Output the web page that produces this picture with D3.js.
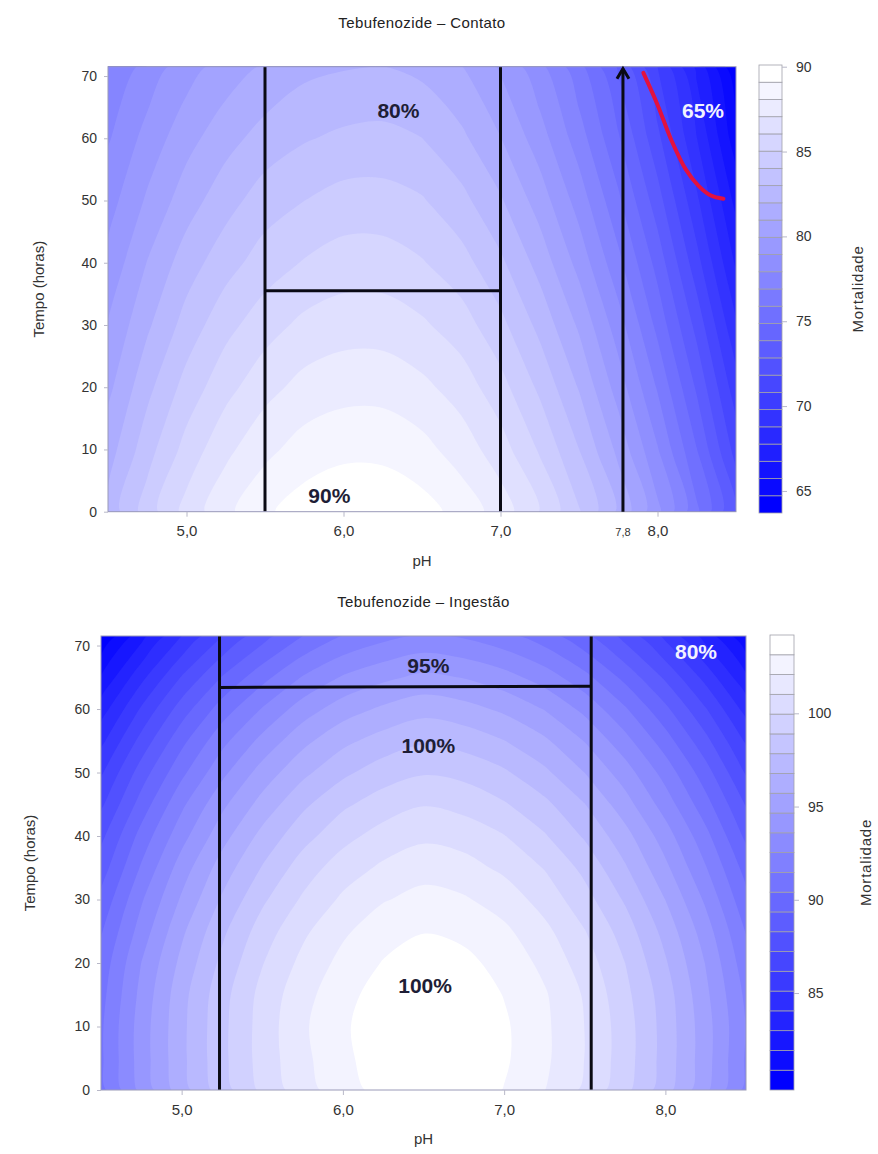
<!DOCTYPE html>
<html>
<head>
<meta charset="utf-8">
<script src="https://cdn.jsdelivr.net/npm/d3@7"></script>
<style>
body { margin: 0; background: #fff; }
svg text { font-family: "Liberation Sans", Arial, sans-serif; fill: #333; }
</style>
</head>
<body>
<div id="chart"></div>
<script>
// grade: colunas = pH, linhas = tempo (horas)
var phCols = [4.5, 4.75, 5.0, 5.25, 5.5, 5.75, 6.0, 6.25, 6.5, 6.75, 7.0, 7.25, 7.5, 7.75, 8.0, 8.25, 8.5];
var contatoRows = [0, 10, 20, 30, 40, 50, 60, 71.5];
var ingestaoRows = [0, 5, 10, 15, 20, 25, 30, 35, 40, 45, 50, 55, 60, 65, 71.5];

// Mortalidade - Contato
var contatoGrid = [
  [82.3, 84.5, 86.4, 87.8, 88.9, 89.6, 90.0, 89.9, 89.5, 88.7, 87.6, 86.0, 84.1, 81.8, 79.2, 76.1, 72.7],
  [81.5, 83.6, 85.4, 86.8, 87.8, 88.5, 88.8, 88.8, 88.4, 87.6, 86.5, 84.9, 83.0, 80.7, 78.0, 74.9, 71.4],
  [80.7, 82.7, 84.4, 85.7, 86.7, 87.4, 87.7, 87.7, 87.3, 86.6, 85.4, 83.8, 81.9, 79.5, 76.8, 73.7, 70.2],
  [80.0, 81.8, 83.4, 84.7, 85.6, 86.3, 86.6, 86.6, 86.2, 85.5, 84.3, 82.7, 80.8, 78.4, 75.6, 72.5, 68.9],
  [79.2, 81.0, 82.5, 83.6, 84.5, 85.1, 85.5, 85.5, 85.1, 84.4, 83.2, 81.6, 79.6, 77.2, 74.5, 71.2, 67.6],
  [78.5, 80.1, 81.5, 82.6, 83.5, 84.0, 84.4, 84.4, 84.1, 83.3, 82.1, 80.5, 78.5, 76.1, 73.3, 70.0, 66.4],
  [77.8, 79.3, 80.6, 81.6, 82.4, 82.9, 83.2, 83.3, 83.0, 82.2, 81.0, 79.4, 77.4, 75.0, 72.1, 68.8, 65.1],
  [76.9, 78.3, 79.5, 80.4, 81.1, 81.7, 81.9, 82.0, 81.7, 81.0, 79.8, 78.2, 76.2, 73.7, 70.8, 67.5, 63.7]
];

// Mortalidade - Ingestão
var ingestaoGrid = [
  [91.1, 93.9, 96.3, 98.4, 100.2, 101.6, 102.7, 103.5, 103.9, 103.7, 103.1, 102.1, 100.8, 99.2, 97.2, 94.9, 92.2],
  [91.3, 94.1, 96.5, 98.6, 100.4, 101.8, 102.9, 103.7, 104.1, 103.9, 103.3, 102.3, 101.0, 99.4, 97.4, 95.1, 92.4],
  [91.3, 94.1, 96.5, 98.6, 100.4, 101.9, 103.0, 103.7, 104.1, 103.9, 103.3, 102.3, 101.0, 99.4, 97.4, 95.1, 92.5],
  [91.1, 93.9, 96.4, 98.5, 100.3, 101.7, 102.8, 103.6, 104.0, 103.8, 103.1, 102.2, 100.9, 99.2, 97.3, 94.9, 92.3],
  [90.8, 93.6, 96.0, 98.1, 99.9, 101.3, 102.4, 103.2, 103.6, 103.4, 102.8, 101.8, 100.5, 98.9, 96.9, 94.6, 91.9],
  [90.3, 93.0, 95.5, 97.6, 99.4, 100.8, 101.9, 102.7, 103.1, 102.9, 102.3, 101.3, 100.0, 98.4, 96.4, 94.1, 91.4],
  [89.6, 92.4, 94.8, 96.9, 98.7, 100.1, 101.2, 102.0, 102.4, 102.2, 101.6, 100.6, 99.3, 97.7, 95.7, 93.4, 90.7],
  [88.8, 91.6, 94.1, 96.2, 97.9, 99.4, 100.5, 101.2, 101.7, 101.4, 100.8, 99.9, 98.6, 96.9, 94.9, 92.6, 90.0],
  [88.0, 90.8, 93.2, 95.3, 97.1, 98.5, 99.6, 100.4, 100.8, 100.6, 100.0, 99.0, 97.7, 96.1, 94.1, 91.8, 89.1],
  [87.0, 89.8, 92.3, 94.4, 96.1, 97.6, 98.7, 99.4, 99.9, 99.6, 99.0, 98.1, 96.8, 95.1, 93.1, 90.8, 88.2],
  [86.0, 88.8, 91.2, 93.3, 95.1, 96.5, 97.6, 98.4, 98.8, 98.6, 98.0, 97.0, 95.7, 94.1, 92.1, 89.8, 87.1],
  [84.8, 87.6, 90.1, 92.2, 93.9, 95.4, 96.5, 97.2, 97.7, 97.4, 96.8, 95.9, 94.6, 92.9, 90.9, 88.6, 86.0],
  [83.5, 86.3, 88.8, 90.9, 92.6, 94.1, 95.2, 95.9, 96.4, 96.1, 95.5, 94.6, 93.3, 91.6, 89.6, 87.3, 84.7],
  [82.0, 84.8, 87.3, 89.4, 91.1, 92.6, 93.7, 94.4, 94.9, 94.6, 94.0, 93.1, 91.8, 90.1, 88.1, 85.8, 83.2],
  [79.8, 82.6, 85.1, 87.2, 88.9, 90.4, 91.5, 92.2, 92.7, 92.4, 91.8, 90.9, 89.6, 87.9, 85.9, 83.6, 81.0]
];

var xTicks = [5, 6, 7, 8];
var xTickLabels = ["5,0", "6,0", "7,0", "8,0"];
var yTicks = [0, 10, 20, 30, 40, 50, 60, 70];

var contatoScale = [63.7, 90.1];   // faixa da legenda
var contatoLevels = 26;
var contatoLegendTicks = [65, 70, 75, 80, 85, 90];
var ingestaoScale = [79.8, 104.2];
var ingestaoLevels = 23;
var ingestaoLegendTicks = [85, 90, 95, 100];

// linhas pretas (pH, tempo)
var contatoLines = [
  [[5.5, 0], [5.5, 71.5]],
  [[7.0, 0], [7.0, 71.5]],
  [[5.5, 35.5], [7.0, 35.5]]
];
var contatoArrowPh = 7.78;
var contatoArrowLabel = "7,8";
var contatoRedCurve = [[7.91, 70.5], [8.0, 65.4], [8.09, 59.6], [8.18, 55.0], [8.26, 52.4], [8.34, 50.8], [8.42, 50.3]];
var ingestaoLines = [
  [[5.235, 0], [5.235, 71.5]],
  [[7.54, 0], [7.54, 71.5]],
  [[5.235, 63.4], [7.54, 63.6]]
];

// rótulos de porcentagem (texto, pH, tempo)
var contatoLabels = [["80%", 6.35, 64.4], ["90%", 5.91, 2.6]];
var contatoLabelsLight = [["65%", 8.29, 64.4]];
var ingestaoLabels = [["95%", 6.53, 66.9], ["100%", 6.53, 54.2], ["100%", 6.51, 16.4]];
var ingestaoLabelsLight = [["80%", 8.19, 69.0]];

var width = 878, height = 1154;
var svg = d3.select("#chart").append("svg")
  .attr("width", width)
  .attr("height", height);

function drawPanel(cfg) {
  var x = d3.scaleLinear().domain([4.5, 8.5]).range([cfg.left, cfg.right]);
  var y = d3.scaleLinear().domain([0, 71.5]).range([cfg.bottom, cfg.top]);
  var g = svg.append("g");

  g.append("clipPath").attr("id", cfg.id + "-clip")
    .append("rect")
    .attr("x", cfg.left).attr("y", cfg.top)
    .attr("width", cfg.right - cfg.left).attr("height", cfg.bottom - cfg.top);

  var lo = cfg.scale[0], hi = cfg.scale[1], nb = cfg.levels;
  var step = (hi - lo) / nb;
  var bandColor = d3.scaleLinear().domain([0, nb - 1]).range(["#0000ff", "#ffffff"]);

  // contornos preenchidos
  var n = phCols.length, m = cfg.rows.length;
  var values = d3.merge(cfg.grid);
  var thresholds = d3.range(1, nb).map(function(k) { return lo + k * step; });
  var contours = d3.contours().size([n, m]).thresholds(thresholds)(values);
  var gx = d3.scaleLinear().domain(d3.range(n)).range(phCols);
  var gy = d3.scaleLinear().domain(d3.range(m)).range(cfg.rows);
  function proj(p) {
    var i = Math.max(0, Math.min(n - 1, p[0] - 0.5));
    var j = Math.max(0, Math.min(m - 1, p[1] - 0.5));
    return [x(gx(i)), y(gy(j))];
  }
  var ringLine = d3.line().curve(d3.curveCatmullRomClosed.alpha(0.5));
  function ringPath(ring) {
    var pts = [];
    ring.slice(0, -1).map(proj).forEach(function(p) {
      var last = pts[pts.length - 1];
      if (!last || Math.abs(last[0] - p[0]) > 0.01 || Math.abs(last[1] - p[1]) > 0.01) pts.push(p);
    });
    return pts.length > 2 ? ringLine(pts) : "";
  }

  var plot = g.append("g").attr("clip-path", "url(#" + cfg.id + "-clip)");
  plot.append("rect")
    .attr("x", cfg.left).attr("y", cfg.top)
    .attr("width", cfg.right - cfg.left).attr("height", cfg.bottom - cfg.top)
    .attr("fill", bandColor(0));
  plot.selectAll("path.band")
    .data(contours)
    .enter()
    .append("path")
    .attr("class", "band")
    .attr("fill", function(d, i) { return bandColor(i + 1); })
    .attr("d", function(d) {
      var s = "";
      d.coordinates.forEach(function(poly) {
        poly.forEach(function(ring) { s += ringPath(ring); });
      });
      return s;
    });

  // moldura
  g.append("rect")
    .attr("x", cfg.left).attr("y", cfg.top)
    .attr("width", cfg.right - cfg.left).attr("height", cfg.bottom - cfg.top)
    .attr("fill", "none").attr("stroke", "#9a9ab8").attr("stroke-width", 1);

  // linhas pretas
  var line = d3.line().x(function(d) { return x(d[0]); }).y(function(d) { return y(d[1]); });
  plot.selectAll("path.mark")
    .data(cfg.lines)
    .enter()
    .append("path")
    .attr("class", "mark")
    .attr("d", line)
    .attr("fill", "none")
    .attr("stroke", "#0a0a14")
    .attr("stroke-width", 3);

  if (cfg.arrowPh) {
    var ax = x(cfg.arrowPh);
    g.append("line")
      .attr("x1", ax).attr("x2", ax)
      .attr("y1", y(0)).attr("y2", cfg.top + 2)
      .attr("stroke", "#0a0a14").attr("stroke-width", 3);
    g.append("path")
      .attr("d", "M" + (ax - 6) + "," + (cfg.top + 12) + "L" + ax + "," + (cfg.top + 2) + "L" + (ax + 6) + "," + (cfg.top + 12))
      .attr("fill", "none").attr("stroke", "#0a0a14").attr("stroke-width", 3);
    g.append("text")
      .attr("x", ax).attr("y", cfg.bottom + 24)
      .attr("text-anchor", "middle")
      .attr("font-size", "11px")
      .text(cfg.arrowLabel);
  }

  if (cfg.redCurve) {
    plot.append("path")
      .datum(cfg.redCurve)
      .attr("d", line.curve(d3.curveCatmullRom.alpha(0.5)))
      .attr("fill", "none")
      .attr("stroke", "#e3123f")
      .attr("stroke-width", 4)
      .attr("stroke-linecap", "round");
  }

  // rótulos
  g.selectAll("text.pct")
    .data(cfg.labels.map(function(d) { return [d, "#1e1e36"]; }).concat(cfg.labelsLight.map(function(d) { return [d, "#f2f2ff"]; })))
    .enter()
    .append("text")
    .attr("class", "pct")
    .attr("x", function(d) { return x(d[0][1]); })
    .attr("y", function(d) { return y(d[0][2]); })
    .attr("dy", "0.36em")
    .attr("text-anchor", "middle")
    .attr("font-size", "21px")
    .attr("font-weight", "bold")
    .style("fill", function(d) { return d[1]; })
    .text(function(d) { return d[0][0]; });

  // eixos
  var xAxis = g.append("g")
    .attr("transform", "translate(0," + cfg.bottom + ")")
    .call(d3.axisBottom(x).tickValues(xTicks)
      .tickFormat(function(d, i) { return xTickLabels[i]; })
      .tickSize(5).tickPadding(9));
  var yAxis = g.append("g")
    .attr("transform", "translate(" + cfg.left + ",0)")
    .call(d3.axisLeft(y).tickValues(yTicks).tickSize(4).tickPadding(7));
  [xAxis, yAxis].forEach(function(a) {
    a.select(".domain").remove();
    a.selectAll(".tick line").attr("stroke", "#b8b8c8");
    a.selectAll(".tick text").attr("font-size", "15px").attr("font-family", null).style("fill", "#333");
  });
  yAxis.selectAll(".tick text").attr("font-size", "14px");

  g.append("text")
    .attr("x", (cfg.left + cfg.right) / 2).attr("y", cfg.bottom + 54)
    .attr("text-anchor", "middle").attr("font-size", "15px")
    .text("pH");
  g.append("text")
    .attr("transform", "translate(" + cfg.yLabelX + "," + (cfg.top + cfg.bottom) / 2 + ") rotate(-90)")
    .attr("text-anchor", "middle").attr("font-size", "15px")
    .text("Tempo (horas)");
  g.append("text")
    .attr("x", (cfg.left + cfg.right) / 2).attr("y", cfg.titleY)
    .attr("text-anchor", "middle").attr("font-size", "15px")
    .attr("letter-spacing", "0.4px")
    .style("fill", "#222")
    .text(cfg.title);

  // legenda
  var cy = d3.scaleLinear().domain([lo, hi]).range([cfg.barBottom, cfg.barTop]);
  g.selectAll("rect.level")
    .data(d3.range(nb))
    .enter()
    .append("rect")
    .attr("class", "level")
    .attr("x", cfg.barX)
    .attr("width", cfg.barW)
    .attr("y", function(k) { return cy(lo + (k + 1) * step); })
    .attr("height", function(k) { return cy(lo + k * step) - cy(lo + (k + 1) * step); })
    .attr("fill", function(k) { return bandColor(k); })
    .attr("stroke", "#a0a0aa")
    .attr("stroke-width", 0.8);
  var cAxis = g.append("g")
    .attr("transform", "translate(" + (cfg.barX + cfg.barW) + ",0)")
    .call(d3.axisRight(cy).tickValues(cfg.legendTicks).tickSize(5).tickPadding(9));
  cAxis.select(".domain").remove();
  cAxis.selectAll(".tick line").attr("stroke", "#b8b8c8");
  cAxis.selectAll(".tick text").attr("font-size", "14px").attr("font-family", null).style("fill", "#333");
  g.append("text")
    .attr("transform", "translate(" + cfg.legendLabelX + "," + (cfg.barTop + cfg.barBottom) / 2 + ") rotate(-90)")
    .attr("text-anchor", "middle").attr("font-size", "15px")
    .attr("letter-spacing", "0.8px")
    .text("Mortalidade");
}

drawPanel({
  id: "contato", title: "Tebufenozide \u2013 Contato", titleY: 28,
  left: 108, right: 736, top: 66.7, bottom: 511.7,
  rows: contatoRows, grid: contatoGrid, scale: contatoScale, levels: contatoLevels, legendTicks: contatoLegendTicks,
  lines: contatoLines, arrowPh: contatoArrowPh, arrowLabel: contatoArrowLabel, redCurve: contatoRedCurve,
  labels: contatoLabels, labelsLight: contatoLabelsLight,
  yLabelX: 44, barX: 759, barW: 23, barTop: 65, barBottom: 513, legendLabelX: 863
});

drawPanel({
  id: "ingestao", title: "Tebufenozide \u2013 Ingest\u00e3o", titleY: 607,
  left: 101, right: 746, top: 636, bottom: 1090,
  rows: ingestaoRows, grid: ingestaoGrid, scale: ingestaoScale, levels: ingestaoLevels, legendTicks: ingestaoLegendTicks,
  lines: ingestaoLines, labels: ingestaoLabels, labelsLight: ingestaoLabelsLight,
  yLabelX: 35, barX: 770, barW: 24, barTop: 635, barBottom: 1090, legendLabelX: 871
});
</script>
</body>
</html>
